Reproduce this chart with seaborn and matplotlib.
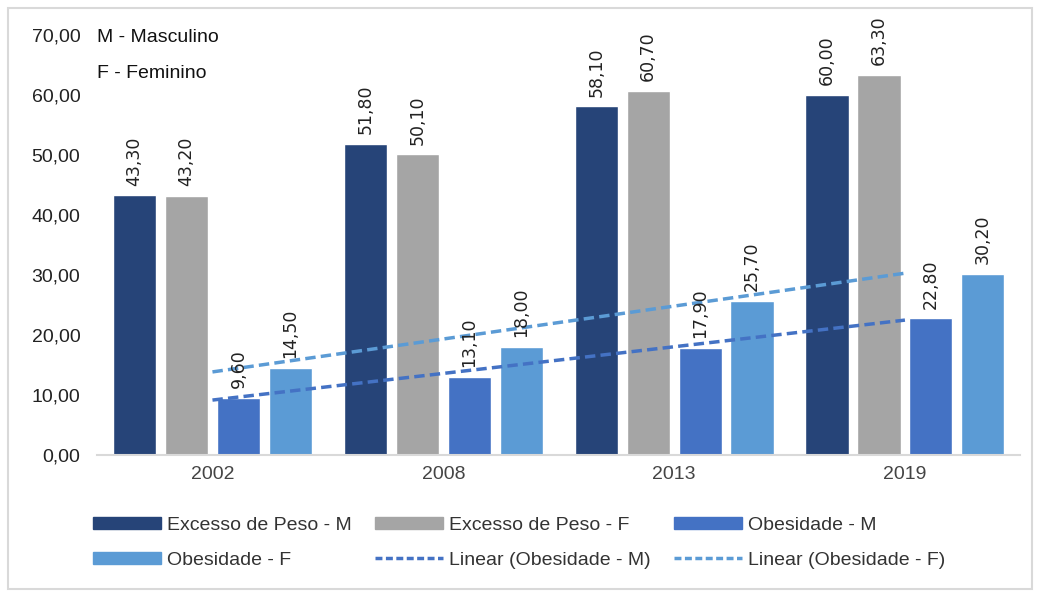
import numpy as np
import pandas as pd
import matplotlib
matplotlib.use("Agg")
import matplotlib.pyplot as plt
import seaborn as sns
from matplotlib.patches import Patch, Rectangle
from matplotlib.lines import Line2D

years = ["2002", "2008", "2013", "2019"]
excesso_m = [43.30, 51.80, 58.10, 60.00]
excesso_f = [43.20, 50.10, 60.70, 63.30]
obesidade_m = [9.60, 13.10, 17.90, 22.80]
obesidade_f = [14.50, 18.00, 25.70, 30.20]
series_names = ["Excesso de Peso - M", "Excesso de Peso - F", "Obesidade - M", "Obesidade - F"]
trend_names = ["Linear (Obesidade - M)", "Linear (Obesidade - F)"]
colors = ["#264478", "#A5A5A5", "#4472C4", "#5B9BD5"]
y_ticks = [0, 10, 20, 30, 40, 50, 60, 70]
y_tick_labels = ["0,00", "10,00", "20,00", "30,00", "40,00", "50,00", "60,00", "70,00"]
note_lines = ["M - Masculino", "F - Feminino"]

sns.set_theme(style="white")
plt.rcParams["font.family"] = ["Liberation Sans", "DejaVu Sans"]

all_vals = [excesso_m, excesso_f, obesidade_m, obesidade_f]
df = pd.DataFrame({
    "ano": np.repeat([years], 4, axis=0).ravel(),
    "serie": np.repeat(series_names, len(years)),
    "valor": np.concatenate(all_vals),
})

fig = plt.figure(figsize=(10.38, 5.92), dpi=100)
ax = fig.add_axes([0.0935, 0.231, 0.8895, 0.71])

sns.barplot(data=df, x="ano", y="valor", hue="serie", hue_order=series_names,
            order=years, palette=colors, width=0.9, gap=0.17, saturation=1,
            legend=False, ax=ax)

for cont, vals in zip(ax.containers, all_vals):
    labels = [f"{v:.2f}".replace(".", ",") for v in vals]
    ax.bar_label(cont, labels=labels, rotation=90, padding=7,
                 fontsize=12.5, color="#222222", family="DejaVu Sans")

xs = np.arange(len(years))
trend_colors = ["#4472C4", "#5B9BD5"]
for vals, c in zip([obesidade_m, obesidade_f], trend_colors):
    k, b = np.polyfit(xs + 1, vals, 1)
    ax.plot(xs, k * (xs + 1) + b, linestyle=(0, (3, 1.5)), color=c, lw=2.5)

ax.set_ylim(0, 70)
ax.set_xlim(-0.5, 3.5)
ax.set_yticks(y_ticks)
ax.set_yticklabels(y_tick_labels, fontsize=14, color="#222222")
ax.set_xticks(xs)
ax.set_xticklabels(years, fontsize=14, color="#444444")
ax.tick_params(axis="y", length=0, pad=12)
ax.tick_params(axis="x", length=0, pad=8)
ax.set_xlabel("")
ax.set_ylabel("")
for s in ["top", "right", "left"]:
    ax.spines[s].set_visible(False)
ax.spines["bottom"].set_color("#d9d9d9")
ax.spines["bottom"].set_linewidth(1.5)

fig.text(97 / 1038, 1 - 37 / 592, note_lines[0], fontsize=14, va="center", color="#111111")
fig.text(97 / 1038, 1 - 74 / 592, note_lines[1], fontsize=14, va="center", color="#111111")

handles = [Patch(color=c) for c in colors] + [
    Line2D([0], [0], color=c, lw=2.5, linestyle=(0, (2, 1))) for c in trend_colors]
labels = series_names + trend_names
order = [0, 3, 1, 4, 2, 5]
fig.legend([handles[i] for i in order], [labels[i] for i in order],
           loc="center", bbox_to_anchor=(0.50, 0.083), ncol=3, frameon=False,
           fontsize=14, handlelength=3.5, handleheight=0.6, handletextpad=0.3,
           columnspacing=1.2, labelspacing=0.9, labelcolor="#333333")

fig.patches.append(Rectangle((8 / 1038, 3 / 592), 1 - 14 / 1038, 1 - 11 / 592,
                             transform=fig.transFigure, fill=False,
                             edgecolor="#d9d9d9", lw=1.5))

fig.savefig("out.png", dpi=100)
